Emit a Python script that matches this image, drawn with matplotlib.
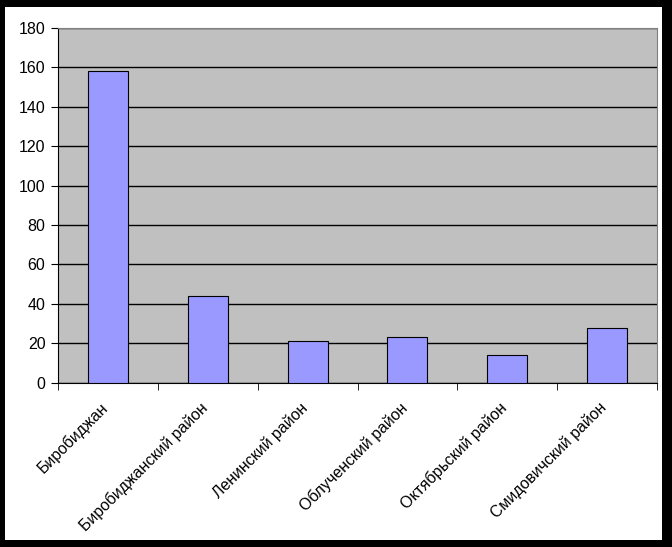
import numpy as np
import matplotlib.pyplot as plt
import matplotlib.transforms as mtransforms
from matplotlib.patches import Rectangle

districts = ['Биробиджан', 'Биробиджанский район', 'Ленинский район',
             'Облученский район', 'Октябрьский район', 'Смидовичский район']
counts = [158, 44, 21, 23, 14, 28]

plt.rcParams['font.family'] = ['Liberation Sans', 'DejaVu Sans']

W, H = 672, 547
fig = plt.figure(figsize=(W / 100, H / 100), dpi=100)
fig.patch.set_facecolor('black')
# white chart area inside the black frame
fig.patches.append(Rectangle((5 / W, 1 - 540 / H), (662 - 5) / W, (540 - 7) / H,
                             transform=fig.transFigure, facecolor='white',
                             edgecolor='none', zorder=-10))

ax = fig.add_axes([58 / W, 1 - 382.7 / H, (657 - 58) / W, (382.7 - 28) / H])
ax.set_zorder(1)
ax.set_facecolor('#C0C0C0')

x = np.arange(len(districts))
ax.bar(x, counts, width=0.4, color='#9999FF', edgecolor='black', linewidth=0.8, zorder=3)

ax.set_xlim(-0.5, len(districts) - 0.5)
ax.set_ylim(0, 180)
ax.set_yticks(np.arange(0, 181, 20))
ax.yaxis.grid(True, color='black', linewidth=1, zorder=1)
ax.set_axisbelow(True)

ax.set_xticks(x)
ax.set_xticklabels(districts, rotation=45, ha='right', rotation_mode='anchor', fontsize=11.4)
ax.set_xticks(np.arange(-0.5, len(districts)), minor=True)
ax.tick_params(axis='x', which='major', length=0, pad=8)
ax.tick_params(axis='x', which='minor', length=5, direction='out', color='black')
ax.tick_params(axis='y', length=5, direction='out', labelsize=11.5, pad=4)

# nudge the rotated labels so their ends sit under the category centres
shift = mtransforms.ScaledTranslation(-8 / 100, -6 / 100, fig.dpi_scale_trans)
for lbl in ax.get_xticklabels():
    lbl.set_transform(lbl.get_transform() + shift)

for side in ['top', 'right']:
    ax.spines[side].set_color('#808080')
for side in ['left', 'bottom']:
    ax.spines[side].set_color('black')

fig.savefig('out.png', dpi=100, facecolor=fig.get_facecolor())
